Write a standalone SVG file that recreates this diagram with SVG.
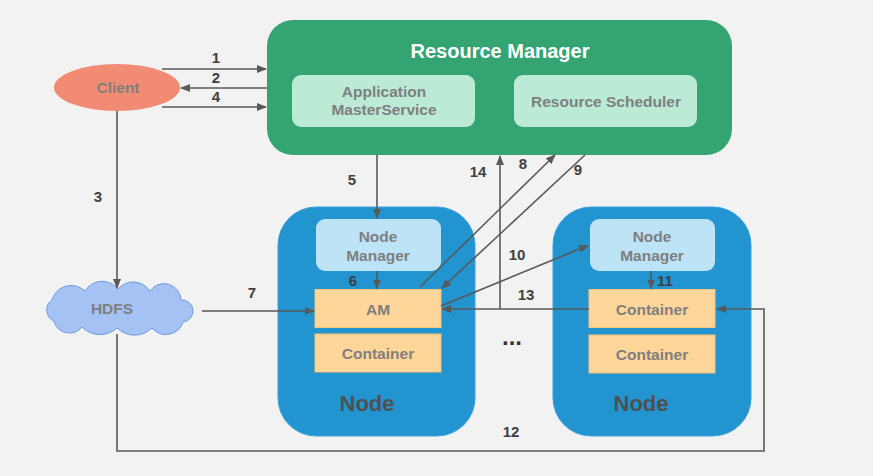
<svg xmlns="http://www.w3.org/2000/svg" width="873" height="476" viewBox="0 0 873 476">
<style>
text{font-family:"Liberation Sans",Arial,sans-serif;font-weight:bold;text-anchor:middle}
.lbl{font-size:15.5px;fill:#7f7f7f}
.num{font-size:15px;fill:#404040}
.node{fill:#2294d0;stroke:#3aa0da;stroke-width:1}
.nm{fill:#bde3f6}
.ct{fill:#ffd699;stroke:#f3c27c;stroke-width:1}
.sub{fill:#bbead5}
.ln{fill:none;stroke:#595959;stroke-width:1.6}
.big{font-size:22px;fill:#505050}
</style>
<defs>
<marker id="ah" markerWidth="10" markerHeight="8" refX="9" refY="4" orient="auto" markerUnits="userSpaceOnUse">
<path d="M0,0 L10,4 L0,8 Z" fill="#595959"/>
</marker>
</defs>
<rect width="873" height="476" fill="#f2f2f2"/>

<g id="rm">
<rect x="267" y="20" width="465" height="135" rx="26" fill="#34a572"/>
<text x="500" y="58" font-size="20" fill="#ffffff">Resource Manager</text>
</g>
<g id="ams">
<rect class="sub" x="292" y="75" width="183" height="52" rx="9"/>
<text class="lbl" x="384" y="97">Application</text>
<text class="lbl" x="384" y="115">MasterService</text>
</g>
<g id="rs">
<rect class="sub" x="514" y="75" width="183" height="52" rx="9"/>
<text class="lbl" x="606" y="107">Resource Scheduler</text>
</g>

<g id="client">
<ellipse cx="117" cy="87.5" rx="63" ry="23.5" fill="#f28b73"/>
<text class="lbl" x="118" y="93">Client</text>
</g>

<g id="hdfs">
<path d="M54,321 A12,12 0 0 1 52,300 A20,20 0 0 1 85,291 A20,20 0 0 1 118,289 A20,20 0 0 1 150,291 A17,17 0 0 1 181,300 A11,11 0 0 1 183,322 A18,18 0 0 1 152,328 A25,25 0 0 1 117,328 A25,25 0 0 1 82,327 A16,16 0 0 1 54,321 Z" fill="#a4c2f4" stroke="#6f9be0" stroke-width="1"/>
<text class="lbl" x="112" y="314">HDFS</text>
</g>

<g id="node1">
<rect class="node" x="278" y="207" width="197" height="229" rx="38"/>
<text class="big" x="367" y="411">Node</text>
</g>
<g id="nm1">
<rect class="nm" x="316" y="219" width="125" height="52" rx="9"/>
<text class="lbl" x="378" y="242">Node</text>
<text class="lbl" x="378" y="261">Manager</text>
</g>
<g id="am">
<rect class="ct" x="315" y="289.5" width="126" height="38"/>
<text class="lbl" x="378" y="315">AM</text>
</g>
<g id="c1">
<rect class="ct" x="315" y="334" width="126" height="38"/>
<text class="lbl" x="378" y="359">Container</text>
</g>

<g id="node2">
<rect class="node" x="553" y="207" width="198" height="229" rx="38"/>
<text class="big" x="641" y="411">Node</text>
</g>
<g id="nm2">
<rect class="nm" x="590" y="219" width="125" height="52" rx="9"/>
<text class="lbl" x="652" y="242">Node</text>
<text class="lbl" x="652" y="261">Manager</text>
</g>
<g id="c2">
<rect class="ct" x="589" y="289.5" width="126" height="38"/>
<text class="lbl" x="652" y="315">Container</text>
</g>
<g id="c3">
<rect class="ct" x="589" y="335" width="126" height="38"/>
<text class="lbl" x="652" y="360">Container</text>
</g>

<text x="512" y="345" font-size="24" fill="#333333">...</text>

<g id="connectors">
<line class="ln" x1="162" y1="69" x2="266" y2="69" marker-end="url(#ah)"/>
<line class="ln" x1="267" y1="88" x2="181" y2="88" marker-end="url(#ah)"/>
<line class="ln" x1="162" y1="107" x2="266" y2="107" marker-end="url(#ah)"/>
<line class="ln" x1="117" y1="111" x2="117" y2="288" marker-end="url(#ah)"/>
<line class="ln" x1="202" y1="311" x2="314" y2="311" marker-end="url(#ah)"/>
<path class="ln" d="M117,334 V451 H764 V309 H717" marker-end="url(#ah)"/>
<line class="ln" x1="377" y1="155" x2="377" y2="218" marker-end="url(#ah)"/>
<line class="ln" x1="377" y1="271" x2="377" y2="288.5" marker-end="url(#ah)"/>
<line class="ln" x1="651" y1="271" x2="651" y2="288.5" marker-end="url(#ah)"/>
<line class="ln" x1="420" y1="287" x2="555" y2="155" marker-end="url(#ah)"/>
<line class="ln" x1="585" y1="155" x2="442" y2="288" marker-end="url(#ah)"/>
<line class="ln" x1="441" y1="306" x2="588" y2="245.5" marker-end="url(#ah)"/>
<line class="ln" x1="589" y1="309" x2="442" y2="309" marker-end="url(#ah)"/>
<line class="ln" x1="500" y1="309" x2="500" y2="156" marker-end="url(#ah)"/>
</g>

<g id="labels">
<text class="num" x="216" y="63">1</text>
<text class="num" x="216" y="83">2</text>
<text class="num" x="216" y="102">4</text>
<text class="num" x="98" y="202">3</text>
<text class="num" x="352" y="185">5</text>
<text class="num" x="353" y="286">6</text>
<text class="num" x="252" y="298">7</text>
<text class="num" x="523" y="169">8</text>
<text class="num" x="578" y="175">9</text>
<text class="num" x="517" y="260">10</text>
<text class="num" x="665" y="286">11</text>
<text class="num" x="511" y="437">12</text>
<text class="num" x="526" y="300">13</text>
<text class="num" x="478" y="177">14</text>
</g>
</svg>
